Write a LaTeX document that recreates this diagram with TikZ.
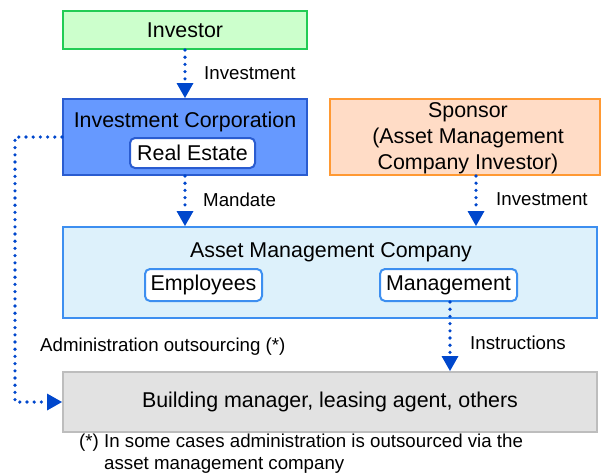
\documentclass[tikz,border=0pt]{standalone}
\usepackage{fontspec}
\setmainfont{Liberation Sans}
\usetikzlibrary{arrows.meta}
\definecolor{invfill}{HTML}{CCFFCC}
\definecolor{invdraw}{HTML}{22CC55}
\definecolor{icfill}{HTML}{6699FF}
\definecolor{icdraw}{HTML}{2A5CD0}
\definecolor{spfill}{HTML}{FFDCC6}
\definecolor{spdraw}{HTML}{FF9933}
\definecolor{amcfill}{HTML}{DDF1FB}
\definecolor{amcdraw}{HTML}{3D8FF0}
\definecolor{bmfill}{HTML}{E2E2E2}
\definecolor{bmdraw}{HTML}{BDBDBD}
\definecolor{arrowblue}{HTML}{0047CC}
\begin{document}
\begin{tikzpicture}[x=1pt,y=-1pt,
  bigtext/.style={font=\fontsize{21.4}{26}\selectfont},
  smalltext/.style={font=\fontsize{18.7}{22}\selectfont},
  box/.style={draw, line width=2pt, inner sep=0pt, bigtext},
  inner/.style={draw, line width=2pt, fill=white, rounded corners=5pt, inner sep=0pt, bigtext},
  lbl/.style={smalltext, inner sep=0pt, anchor=west},
  conn/.style={draw=arrowblue, line width=3.6pt, line cap=round, dash pattern=on 0pt off 7.2pt,
    -{Triangle[length=15pt,width=17pt,line width=0pt]}, fill=none}
]
\useasboundingbox (0,0) rectangle (601,475);

% boxes
\node[box, fill=invfill, draw=invdraw, minimum width=244pt, minimum height=38pt] (inv) at (185,30) {Investor};
\node[box, fill=icfill, draw=icdraw, minimum width=244pt, minimum height=76pt] (ic) at (185,137) {};
\node[bigtext, inner sep=0pt] (ictitle) at (185,122) {Investment Corporation};
\node[inner, draw=icdraw, minimum width=125pt, minimum height=30pt] (re) at (192.5,153) {Real Estate};

\node[box, fill=spfill, draw=spdraw, minimum width=270pt, minimum height=76pt] (sp) at (465,137) {};
\node[bigtext, inner sep=0pt, align=center] (sptext) at (468,138) {Sponsor\\(Asset Management\\Company Investor)};

\node[box, fill=amcfill, draw=amcdraw, minimum width=534pt, minimum height=91pt] (amc) at (330,272.5) {};
\node[bigtext, inner sep=0pt] (amctitle) at (331,252) {Asset Management Company};
\node[inner, draw=amcdraw, minimum width=117pt, minimum height=32pt] (emp) at (203.5,285) {Employees};
\node[inner, draw=amcdraw, minimum width=137pt, minimum height=32pt] (mgmt) at (448.5,285) {Management};

\node[box, fill=bmfill, draw=bmdraw, minimum width=534pt, minimum height=60pt] (bm) at (330,402) {Building manager, leasing agent, others};

% labels
\node[lbl] (l1) at (204,73) {Investment};
\node[lbl] (l2) at (203,200) {Mandate};
\node[lbl] (l3) at (496,199) {Investment};
\node[lbl] (l4) at (470,343) {Instructions};
\node[lbl] (l5) at (40,347) {Administration outsourcing (*)};
\node[lbl] (fn1) at (79,443) {(*) In some cases administration is outsourced via the};
\node[lbl] (fn2) at (104,465) {asset management company};

% connectors
\draw[conn] (inv.south) -- (ic.north);
\draw[conn] (ic.south) -- (ic.south |- amc.north);
\draw[conn] ([xshift=11pt]sp.south) -- ([xshift=11pt]sp.south |- amc.north);
\draw[conn] ([xshift=1.5pt]mgmt.south) -- ([xshift=1.5pt]mgmt.south |- bm.north);
\draw[conn] (ic.west) -- ++(-47,0) |- (bm.west);
\end{tikzpicture}
\end{document}
